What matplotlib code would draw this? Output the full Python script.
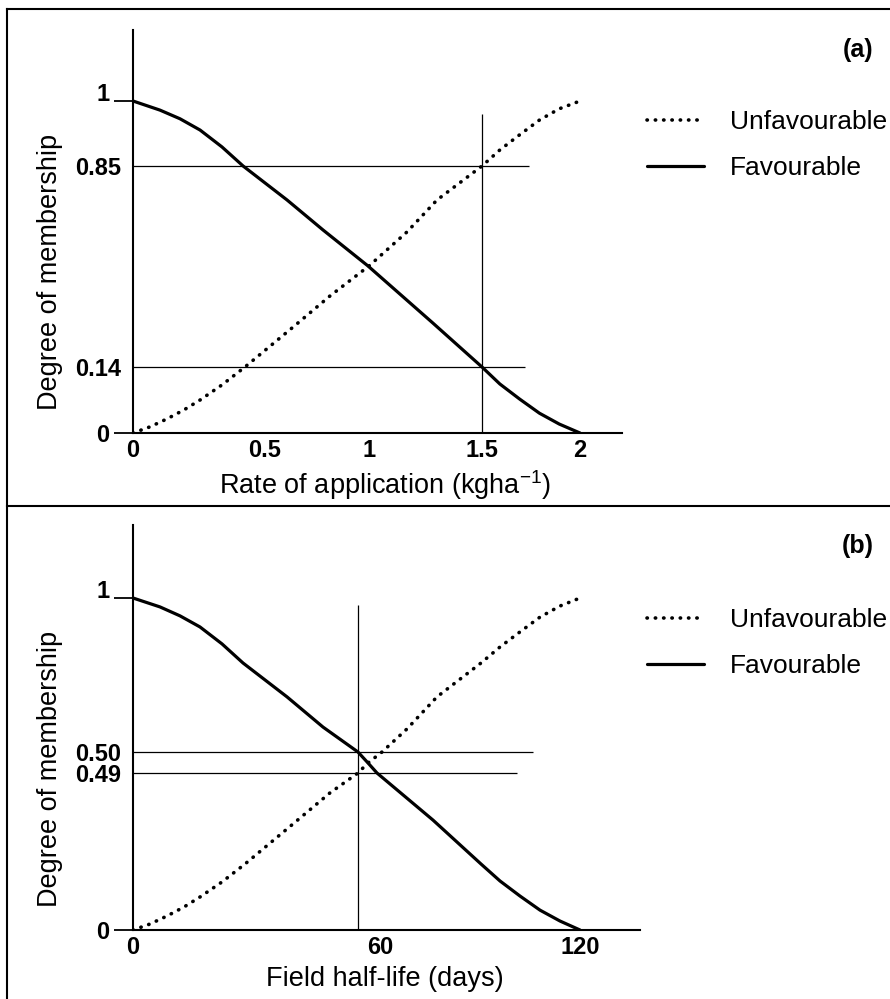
import numpy as np
import matplotlib
matplotlib.use("Agg")
import matplotlib.pyplot as plt
from matplotlib.lines import Line2D
from matplotlib.ticker import FixedLocator, FixedFormatter

plt.rcParams["font.family"] = ["Liberation Sans", "DejaVu Sans"]

# ---------------- data: panel (a) ----------------
rate_ticks = [0, 0.5, 1, 1.5, 2]
rate_ticklabels = ["0", "0.5", "1", "1.5", "2"]
a_end_ticks = [0, 1]
a_end_labels = ["0", "1"]
a_mark_ticks = [0.14, 0.85]
a_mark_labels = ["0.14", "0.85"]
a_fav_x = [0, 0.102, 0.178, 0.254, 0.337, 0.417, 0.606, 0.779, 0.995, 1.283, 1.5,
           1.591, 1.692, 1.793, 1.894, 2.0]
a_fav_y = [1.0, 0.979, 0.959, 0.933, 0.894, 0.85, 0.730, 0.624, 0.497, 0.295, 0.14,
           0.104, 0.072, 0.042, 0.019, 0.0]
a_unf_x = [0, 0.064, 0.129, 0.193, 0.254, 0.337, 0.424, 0.635, 0.8125, 1.0, 1.168, 1.301,
           1.5, 1.591, 1.692, 1.793, 1.894, 2.0]
a_unf_y = [0.0, 0.013, 0.030, 0.049, 0.070, 0.102, 0.14, 0.281, 0.391, 0.497, 0.617, 0.730,
           0.85, 0.887, 0.922, 0.956, 0.982, 1.0]
a_input = 1.5
a_input_top = 0.97
a_hline_y = [0.85, 0.14]
a_hline_end = [1.74, 1.72]

# ---------------- data: panel (b) ----------------
life_ticks = [0, 60, 120]
life_ticklabels = ["0", "60", "120"]
b_end_ticks = [0, 1]
b_end_labels = ["0", "1"]
b_mark_ticks = [0.49, 0.50]
b_mark_labels = ["0.49", "0.50"]
b_fav_x = [0, 6.56, 11.42, 16.27, 21.62, 26.72, 37.41, 46.15, 54.65, 57.08, 59.27, 75.9,
           90.3, 96.0, 102.0, 108.0, 114.0, 120]
b_fav_y = [1.0, 0.971, 0.942, 0.906, 0.851, 0.789, 0.679, 0.581, 0.50, 0.4948, 0.49, 0.343,
           0.206, 0.153, 0.106, 0.062, 0.028, 0.0]
b_unf_x = [0, 4.13, 8.26, 12.39, 16.27, 21.62, 27.21, 38.87, 47.85, 54.65, 57.08, 60.6,
           68.1, 77.1, 90.3, 96.0, 102.0, 108.0, 114.0, 120]
b_unf_y = [0, 0.0187, 0.0437, 0.0718, 0.103, 0.150, 0.206, 0.331, 0.428, 0.49, 0.4948, 0.50,
           0.575, 0.679, 0.789, 0.841, 0.890, 0.938, 0.974, 1.0]
b_input = 54.7
b_input_top = 0.977
b_hline_y = [0.50, 0.49]
b_hline_end = [105.9, 101.1]

# ---------------- layout (schematic, not-to-scale axes) ----------------
W, H = 890, 999
# pixel distance from the origin at which each labelled value is drawn
A_X_DRAWN = [0, 132, 236, 349, 447]
A_Y_DRAWN = [0, 66, 267, 332]
B_X_DRAWN = [0, 247, 447]
B_Y_DRAWN = [0, 157, 178, 332]


def fx(px):
    return px / W


def fy(py):
    return 1 - py / H


def piecewise(vals, drawn):
    v = np.asarray(vals, float)
    d = np.asarray(drawn, float)
    s0 = (d[1] - d[0]) / (v[1] - v[0])
    s1 = (d[-1] - d[-2]) / (v[-1] - v[-2])

    def fwd(x):
        x = np.asarray(x, float)
        y = np.interp(x, v, d)
        y = np.where(x < v[0], d[0] + (x - v[0]) * s0, y)
        y = np.where(x > v[-1], d[-1] + (x - v[-1]) * s1, y)
        return y

    def inv(y):
        y = np.asarray(y, float)
        x = np.interp(y, d, v)
        x = np.where(y < d[0], v[0] + (y - d[0]) / s0, x)
        x = np.where(y > d[-1], v[-1] + (y - d[-1]) / s1, x)
        return x

    return fwd, inv


fig = plt.figure(figsize=(W / 100, H / 100), dpi=100)

TICK_FS = 17
LAB_FS = 19.5
LEG_FS = 19


def panel(box, xticks, xlabels, xdrawn, ends, end_labels, marks, mark_labels, ydrawn,
          fav_x, fav_y, unf_x, unf_y, xin, xin_top, hy, hend, xlabel, tag, tag_y,
          xlabel_pos, ylabel_pos, legend_top):
    left, right, top, bottom = box
    ax = fig.add_axes([fx(left), fy(bottom), (right - left) / W, (bottom - top) / H])
    xf, xi = piecewise(xticks, xdrawn)
    yvals = sorted(ends + marks)
    yf, yi = piecewise(yvals, ydrawn)
    ax.set_xscale("function", functions=(xf, xi))
    ax.set_yscale("function", functions=(yf, yi))
    ax.set_xlim(0, float(xi(right - left)))
    ax.set_ylim(0, float(yi(bottom - top)))

    ax.hlines(hy, 0, hend, color="black", lw=0.9)
    ax.vlines(xin, 0, xin_top, color="black", lw=0.9)
    unf, = ax.plot(unf_x, unf_y, color="black", lw=2.6, linestyle=(0, (0.1, 2.2)),
                   dash_capstyle="round", label="Unfavourable")
    fav, = ax.plot(fav_x, fav_y, color="black", lw=2.3, solid_capstyle="round",
                   solid_joinstyle="round", label="Favourable")

    for s in ("top", "right"):
        ax.spines[s].set_visible(False)
    for s in ("left", "bottom"):
        ax.spines[s].set_linewidth(1.5)

    ax.xaxis.set_major_locator(FixedLocator(xticks))
    ax.xaxis.set_major_formatter(FixedFormatter(xlabels))
    ax.xaxis.set_minor_locator(FixedLocator([]))
    ax.tick_params(axis="x", which="major", length=0, pad=4, labelsize=TICK_FS)
    ax.tick_params(axis="x", which="minor", length=0)

    ax.yaxis.set_major_locator(FixedLocator(ends))
    ax.yaxis.set_major_formatter(FixedFormatter(end_labels))
    ax.yaxis.set_minor_locator(FixedLocator(marks))
    ax.yaxis.set_minor_formatter(FixedFormatter(mark_labels))
    ax.tick_params(axis="y", which="major", length=14, width=1.3, direction="out",
                   pad=3, labelsize=TICK_FS)
    ax.tick_params(axis="y", which="minor", length=0, pad=8.5, labelsize=TICK_FS)
    for lab in ax.get_xticklabels() + ax.get_yticklabels() + ax.get_yticklabels(minor=True):
        lab.set_fontweight("bold")
    # the "1" label sits on its tick mark like "1_"
    ax.get_yticklabels()[1].set_verticalalignment("baseline")

    ax.set_xlabel(xlabel, fontsize=LAB_FS)
    ax.xaxis.set_label_coords(fx(xlabel_pos[0]), fy(xlabel_pos[1]), transform=fig.transFigure)
    ax.set_ylabel("Degree of membership", fontsize=LAB_FS)
    ax.yaxis.set_label_coords(fx(ylabel_pos[0]), fy(ylabel_pos[1]), transform=fig.transFigure)

    ax.legend(handles=[unf, fav], loc="upper left", bbox_to_anchor=(fx(647), fy(legend_top)),
              bbox_transform=fig.transFigure, frameon=False, fontsize=LEG_FS,
              borderpad=0, borderaxespad=0, handlelength=2.15, handletextpad=1.0,
              labelspacing=0.85)
    fig.text(fx(858), fy(tag_y), tag, fontsize=18, fontweight="bold", ha="center", va="center")
    return ax


panel((133, 622, 30, 433), rate_ticks, rate_ticklabels, A_X_DRAWN,
      a_end_ticks, a_end_labels, a_mark_ticks, a_mark_labels, A_Y_DRAWN,
      a_fav_x, a_fav_y, a_unf_x, a_unf_y, a_input, a_input_top, a_hline_y, a_hline_end,
      "Rate of application (kgha$^{\\mathregular{-1}}$)", "(a)", 50,
      (385, 468), (63, 272), 110)

panel((133, 640, 525, 930), life_ticks, life_ticklabels, B_X_DRAWN,
      b_end_ticks, b_end_labels, b_mark_ticks, b_mark_labels, B_Y_DRAWN,
      b_fav_x, b_fav_y, b_unf_x, b_unf_y, b_input, b_input_top, b_hline_y, b_hline_end,
      "Field half-life (days)", "(b)", 546,
      (385, 966), (63, 769), 608)

# panel frames
for xs, ys in [((7, 890), (9, 9)), ((7, 7), (9, 999)), ((7, 890), (506, 506))]:
    fig.add_artist(Line2D([fx(x) for x in xs], [fy(y) for y in ys], color="black", lw=1.5,
                          transform=fig.transFigure))

fig.savefig("out.png", dpi=100)
